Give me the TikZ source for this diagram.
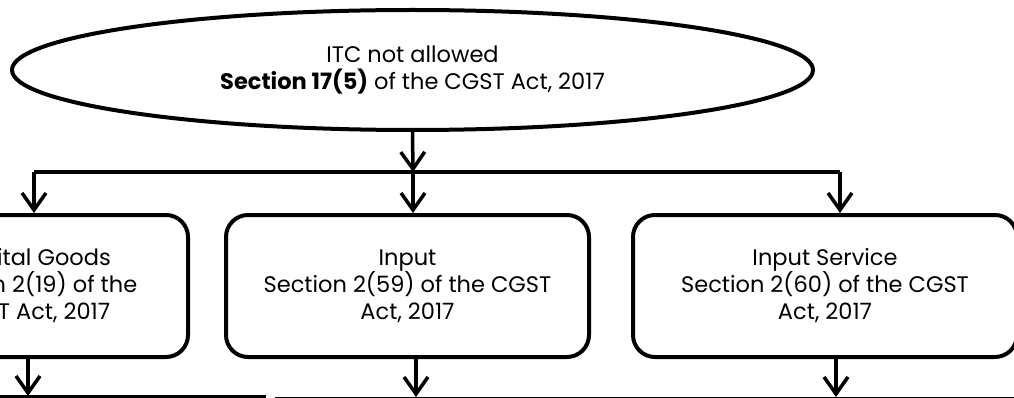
\documentclass[tikz,border=0pt]{standalone}
\usepackage{fontspec}
\setmainfont{Poppins}
\usetikzlibrary{positioning,shapes.geometric,arrows.meta}

\tikzset{
  every node/.style={font=\fontsize{22.5}{27}\selectfont},
  sectbox/.style={rectangle, rounded corners=22pt, draw, line width=4pt,
    align=center, minimum height=142pt, inner sep=0pt},
  bar/.style={line width=3.5pt},
  down/.style={line width=3.5pt, -{Straight Barb[length=17pt,width=24pt]}},
}

\begin{document}
\begin{tikzpicture}[x=1pt,y=-1pt]
\useasboundingbox (0,0) rectangle (1014,398);

\node (itc) [ellipse, draw, line width=4pt, minimum width=801pt, minimum height=120pt, align=center] at (412.5,70) {ITC not allowed\\\textbf{Section 17(5)} of the CGST Act, 2017};

\node (cap) [sectbox, minimum width=316pt] at (30,286) {Capital Goods\\Section 2(19) of the\\CGST Act, 2017};
\node (inp) [sectbox, minimum width=363pt, right=34pt of cap] {Input\\Section 2(59) of the CGST\\Act, 2017};
\node (isv) [sectbox, minimum width=384pt, right=40pt of inp] {Input Service\\Section 2(60) of the CGST\\Act, 2017};

\coordinate (split) at (413,172);
\coordinate (lft) at (34,172);
\coordinate (rgt) at (840,172);

\draw[down] (itc.south) -- (split);
\draw[bar] (lft) -- (rgt);
\draw[down] (lft) -- (lft |- cap.north);
\draw[down] (split) -- (split |- inp.north);
\draw[down] (rgt) -- (rgt |- isv.north);

% next row, cut off at the bottom
\coordinate (capnext) at (28,396);
\coordinate (inpnext) at (416,397);
\coordinate (isvnext) at (836,397);
\draw[down] (capnext |- cap.south) -- (capnext);
\draw[down] (inpnext |- inp.south) -- (inpnext);
\draw[down] (isvnext |- isv.south) -- (isvnext);

\draw[line width=3.5pt] (-5,397) -- (266,397);
\draw[line width=1.5pt] (275,397.5) -- (1020,397.5);

\end{tikzpicture}
\end{document}
